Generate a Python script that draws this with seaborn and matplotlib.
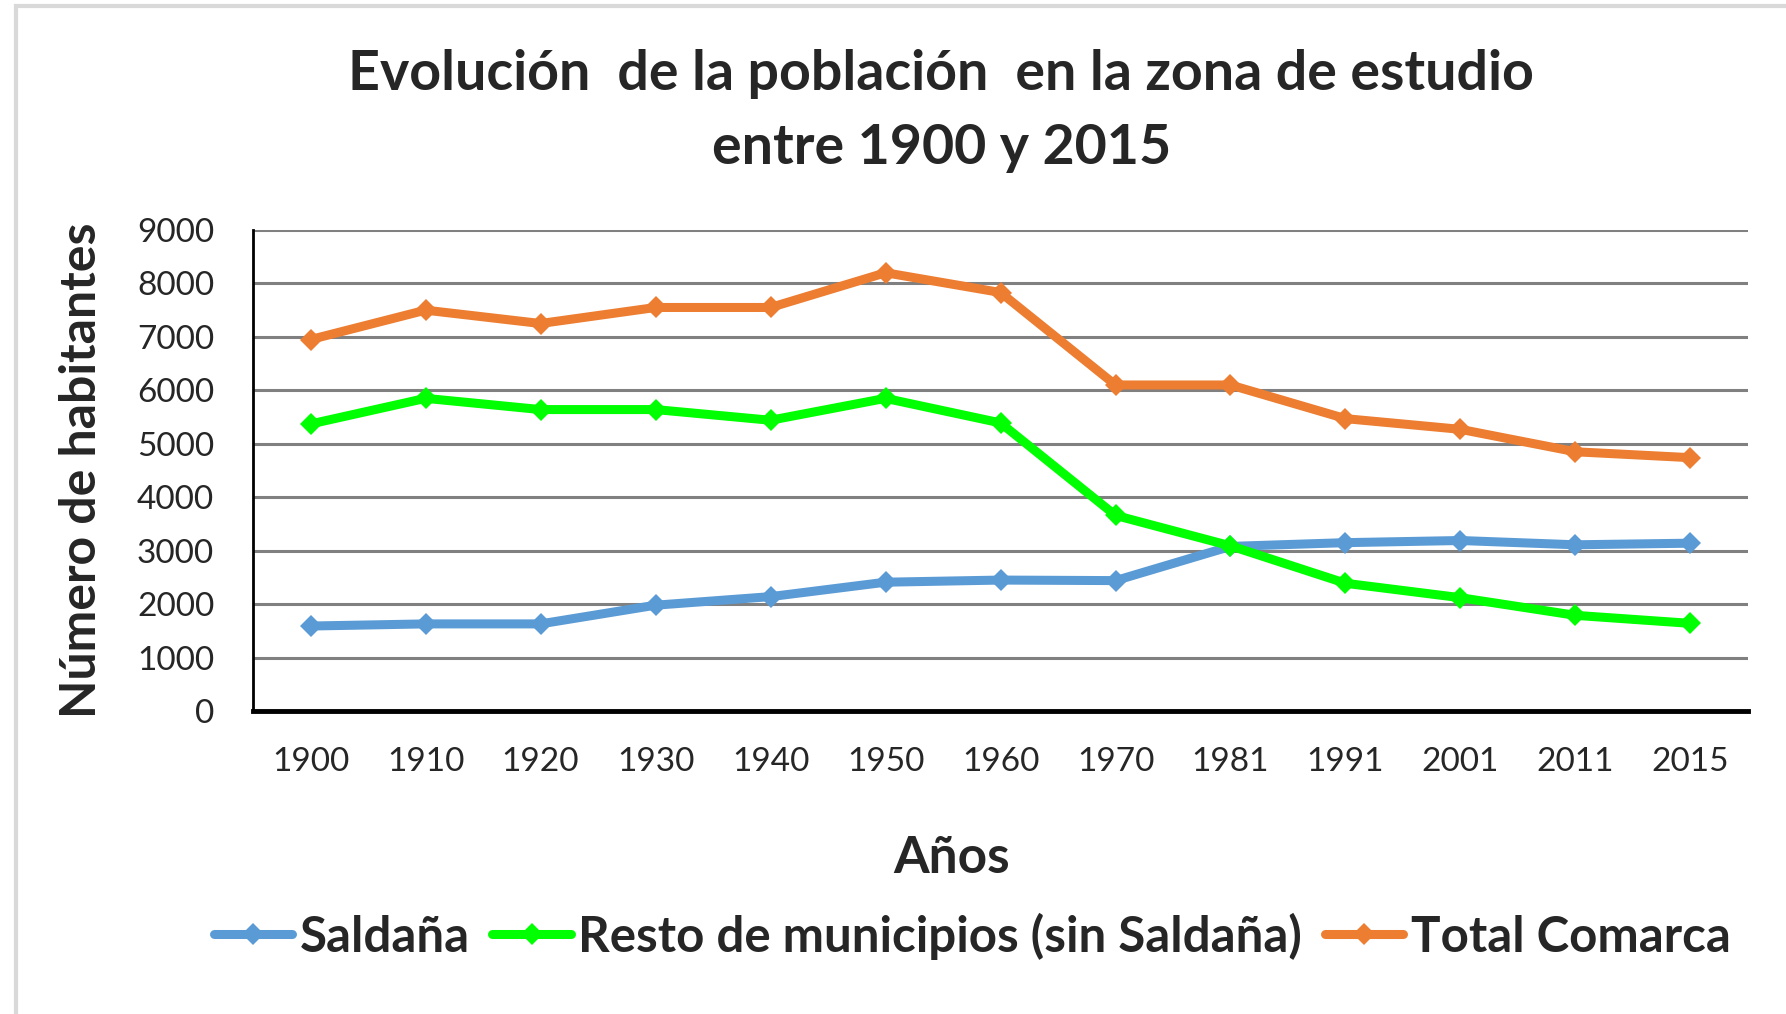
import matplotlib
matplotlib.use("Agg")
import matplotlib.pyplot as plt
import numpy as np
import pandas as pd
import seaborn as sns
from matplotlib.patches import Rectangle

years = ["1900", "1910", "1920", "1930", "1940", "1950", "1960",
         "1970", "1981", "1991", "2001", "2011", "2015"]
saldana = [1590, 1630, 1630, 1980, 2140, 2410, 2450, 2440, 3080, 3150, 3190, 3110, 3140]
resto = [5370, 5850, 5640, 5640, 5440, 5850, 5390, 3660, 3090, 2390, 2120, 1790, 1640]
total = [6950, 7500, 7250, 7550, 7550, 8200, 7830, 6100, 6100, 5470, 5270, 4850, 4740]

series = ["Saldaña", "Resto de municipios (sin Saldaña)", "Total Comarca"]
colors = ["#5B9BD5", "#00FF00", "#ED7D31"]

df = pd.DataFrame({
    "pos": list(range(len(years))) * 3,
    "valor": saldana + resto + total,
    "serie": np.repeat(series, len(years)),
})

sns.set_style("white")
plt.rcParams["font.family"] = ["Lato", "DejaVu Sans"]

fig = plt.figure(figsize=(17.86, 10.14), dpi=100)
ax = fig.add_axes([0.1417, 0.2988, 0.8370, 0.4744])

sns.lineplot(data=df, x="pos", y="valor", hue="serie", style="serie",
             palette=colors, markers=["D", "D", "D"], dashes=False,
             linewidth=6.5, markersize=11, markeredgewidth=0, ax=ax)

ax.set_xlim(-0.5, len(years) - 0.5)
ax.set_ylim(0, 9000)
ax.set_yticks(np.arange(0, 9001, 1000))
ax.yaxis.grid(True, color="#808080", linewidth=2.2)
ax.set_axisbelow(True)
ax.set_xticks(np.arange(-0.5, len(years), 1.0), minor=False)
ax.set_xticklabels([])
ax.set_xticks(np.arange(len(years)), minor=True)
ax.set_xticklabels(years, minor=True, fontsize=24)
ax.tick_params(axis="x", which="major", length=9, width=2, direction="out", color="black")
ax.tick_params(axis="x", which="minor", length=0, pad=26)
ax.tick_params(axis="y", length=6, width=2, direction="out", color="black", labelsize=24, pad=22)

for s in ["top", "right"]:
    ax.spines[s].set_visible(False)
ax.spines["left"].set_color("black")
ax.spines["left"].set_linewidth(2)
ax.spines["bottom"].set_color("black")
ax.spines["bottom"].set_linewidth(3.5)

ax.set_xlabel("Años", fontsize=37, fontweight="bold")
ax.xaxis.set_label_coords(0.467, -0.257)
ax.set_ylabel("Número de habitantes", fontsize=36, fontweight="bold")
ax.yaxis.set_label_coords(-0.100, 0.5)

fig.text(0.527, 0.927, "Evolución  de la población  en la zona de estudio",
         ha="center", va="center", fontsize=40, fontweight="bold")
fig.text(0.527, 0.854, "entre 1900 y 2015",
         ha="center", va="center", fontsize=40, fontweight="bold")

handles, labels = ax.get_legend_handles_labels()
ax.legend(handles, labels, loc="center", bbox_to_anchor=(0.481, -0.468),
          ncol=3, frameon=False, prop={"weight": "bold", "size": 35.5},
          handlelength=1.6, handletextpad=0.15, columnspacing=0.45)

fig.patches.append(Rectangle((16 / 1786, -0.1), 1.2, 1.1 - 6 / 1014,
                             transform=fig.transFigure, fill=False,
                             edgecolor="#d9d9d9", linewidth=3))

fig.savefig("out.png", dpi=100)
